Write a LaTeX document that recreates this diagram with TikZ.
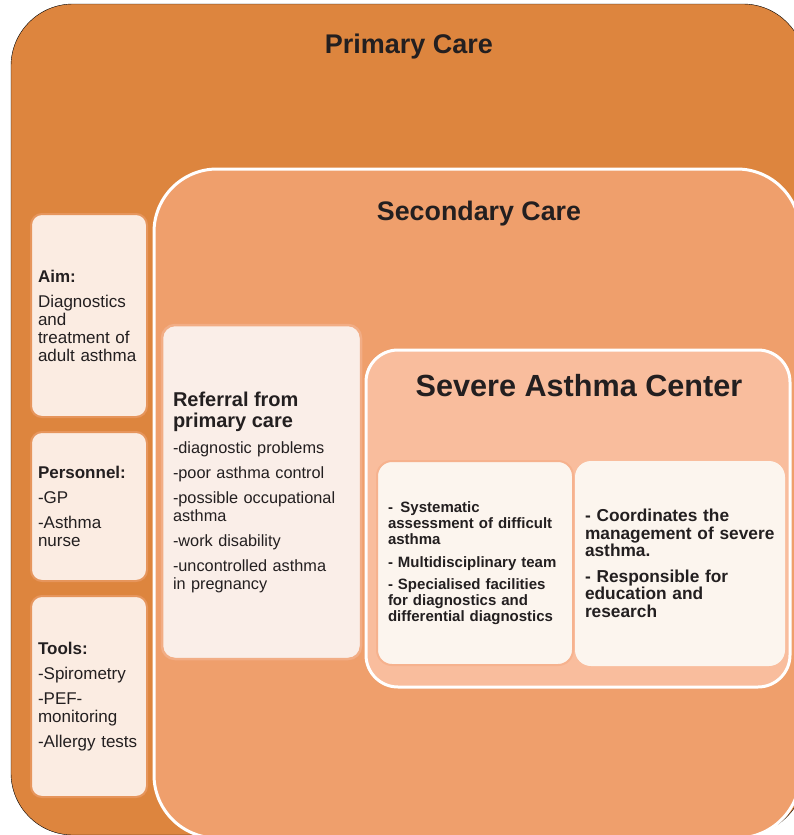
\documentclass[tikz,border=0pt]{standalone}
\usepackage{fontspec}
\setmainfont{Liberation Sans}

\definecolor{primfill}{HTML}{DD853E}
\definecolor{secfill}{HTML}{EF9F6C}
\definecolor{sacfill}{HTML}{F9BD9D}
\definecolor{sidefill}{HTML}{FBECE2}
\definecolor{sidehalo}{HTML}{E6955C}
\definecolor{reffill}{HTML}{FAEEE8}
\definecolor{refhalo}{HTML}{F2AD85}
\definecolor{taskfill}{HTML}{FCF5EE}
\definecolor{taskhalo}{HTML}{F6B28E}
\definecolor{inktext}{HTML}{231F20}

\begin{document}
\begin{tikzpicture}[x=1pt, y=-1pt,
    area/.style={draw=white, line width=3pt},
    title/.style={text=inktext, font=\bfseries\fontsize{27}{30}\selectfont},
    sidebox/.style={rectangle, rounded corners=11pt, draw=sidehalo, line width=2pt, fill=sidefill, minimum width=116pt, text width=102pt, inner xsep=7pt, align=left, text=inktext, font=\fontsize{17}{18}\selectfont},
    refbox/.style={rectangle, rounded corners=13pt, draw=refhalo, line width=2.5pt, fill=reffill, minimum width=199pt, text width=177pt, inner xsep=11pt, align=left, text=inktext, font=\fontsize{16.3}{18}\selectfont},
    taskbox/.style={rectangle, rounded corners=15pt, draw=taskhalo, line width=2pt, fill=taskfill, align=left, text=inktext}
]
    \useasboundingbox[fill=white] (0,0) rectangle (794,835);

    % Primary Care
    \draw[fill=primfill, rounded corners=62pt] (11,4) rectangle (805,835);
    \node[title] (prim) at (409,47) {Primary Care};

    % Secondary Care
    \draw[area, fill=secfill, rounded corners=63pt] (154,169) rectangle (800,838);
    \node[title, font=\bfseries\fontsize{26.8}{30}\selectfont] (sec) at (479,214) {Secondary Care};

    % Severe Asthma Center
    \draw[area, fill=sacfill, rounded corners=32pt] (366,350) rectangle (790,687);
    \node[title, font=\bfseries\fontsize{30.6}{34}\selectfont] (sac) at (579,386) {Severe Asthma Center};

    % primary care boxes
    \node[sidebox, minimum height=203pt] (aim) at (89,315.5)
        {\textbf{Aim:}\\[7pt]Diagnostics\\and\\treatment of\\adult asthma};
    \node[sidebox, minimum height=149pt] (personnel) at (89,506.5)
        {\textbf{Personnel:}\\[7pt]-GP\\[7pt]-Asthma\\nurse};
    \node[sidebox, minimum height=201pt] (tools) at (89,696.5)
        {\textbf{Tools:}\\[7pt]-Spirometry\\[7pt]-PEF-\\monitoring\\[7pt]-Allergy tests};

    % referral
    \node[refbox, minimum height=334pt] (referral) at (261.5,492)
        {{\bfseries\fontsize{20}{21}\selectfont Referral from}\\[3pt]
         {\bfseries\fontsize{20}{21}\selectfont primary care}\\[8pt]
         -diagnostic problems\\[7pt]-poor asthma control\\[7pt]-possible occupational\\asthma\\[7pt]
         -work disability\\[7pt]-uncontrolled asthma\\in pregnancy};

    % center tasks
    \node[taskbox, minimum width=196pt, minimum height=204pt, text width=174pt, inner xsep=11pt,
          font=\bfseries\fontsize{15}{16}\selectfont] (assess) at (475,563)
        {- \,Systematic\\assessment of difficult\\asthma\\[7pt]- Multidisciplinary team\\[6pt]
         - Specialised facilities\\for diagnostics and\\differential diagnostics};
    \node[taskbox, draw=taskfill, minimum width=208pt, minimum height=203pt, text width=190pt, inner xsep=9pt,
          font=\bfseries\fontsize{17.3}{17.5}\selectfont] (coord) at (680,563.5)
        {- Coordinates the\\management of severe\\asthma.\\[8pt]- Responsible for\\education and\\research};
\end{tikzpicture}
\end{document}
